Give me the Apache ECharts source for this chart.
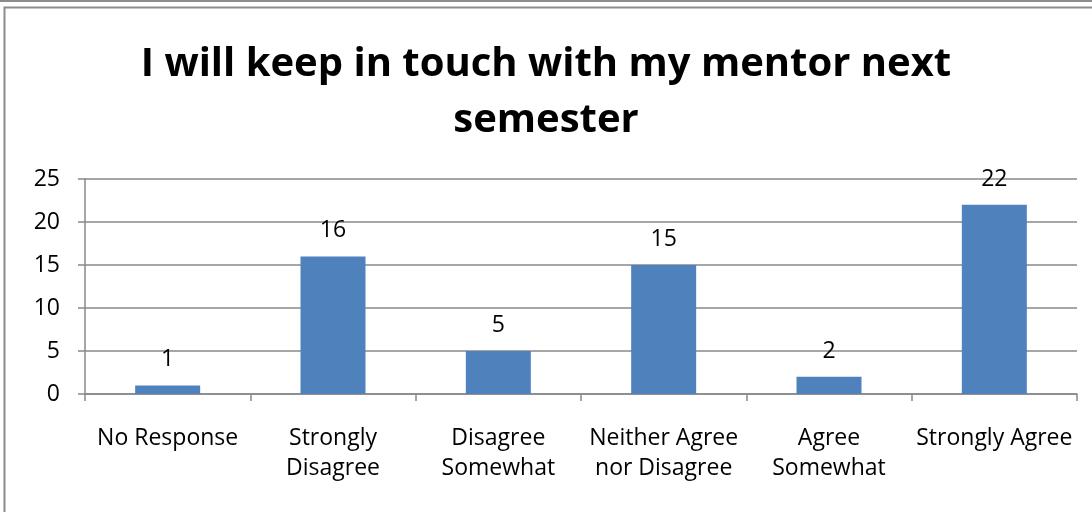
<!DOCTYPE html>
<html><head><meta charset="utf-8">
<script src="https://cdn.jsdelivr.net/npm/echarts@6/dist/echarts.min.js"></script>
<style>html,body{margin:0;padding:0;background:#fff}#c{width:1092px;height:512px}</style>
</head><body><div id="c"></div>
<script>
const titleText = 'I will keep in touch with my mentor next\nsemester';
const categories = ['No Response', 'Strongly\nDisagree', 'Disagree\nSomewhat', 'Neither Agree\nnor Disagree', 'Agree\nSomewhat', 'Strongly Agree'];
const values = [1, 16, 5, 15, 2, 22];
const yTicks = [0, 5, 10, 15, 20, 25];

const chart = echarts.init(document.getElementById('c'));
const FONT = 'Open Sans';
chart.setOption({
  animation: false,
  backgroundColor: '#fff',
  graphic: [
    {type: 'line', shape: {x1: 0, y1: 1, x2: 1092, y2: 1}, style: {stroke: '#8c8c8c', lineWidth: 2}},
    {type: 'rect', shape: {x: 4.5, y: 7.5, width: 1200, height: 600}, style: {fill: 'none', stroke: '#8c8c8c', lineWidth: 2}}
  ],
  title: {
    text: titleText, left: 'center', top: 32,
    textStyle: {fontFamily: FONT, fontWeight: 'bold', fontSize: 40, lineHeight: 56, color: '#000'}
  },
  grid: {left: 85, right: 15, top: 179, bottom: 118, containLabel: false},
  xAxis: {
    type: 'category', data: categories,
    axisLine: {lineStyle: {color: '#888', width: 1.5}},
    axisTick: {show: true, length: 7, lineStyle: {color: '#888', width: 1.5}},
    axisLabel: {interval: 0, margin: 29, fontFamily: FONT, fontSize: 23, lineHeight: 30, color: '#000'}
  },
  yAxis: {
    type: 'value', min: 0, max: 25, interval: 5,
    axisLine: {show: true, lineStyle: {color: '#888', width: 1.5}},
    axisTick: {show: true, length: 7, lineStyle: {color: '#888', width: 1.5}},
    splitLine: {lineStyle: {color: '#888', width: 1.5}},
    axisLabel: {margin: 25, fontFamily: FONT, fontSize: 23, color: '#000',
      formatter: v => yTicks.includes(v) ? String(v) : ''}
  },
  series: [{
    type: 'bar', data: values, barWidth: 65,
    itemStyle: {color: '#4F81BD'},
    label: {show: true, position: 'top', distance: 14, fontFamily: FONT, fontSize: 23, color: '#000'}
  }]
});
</script></body></html>
